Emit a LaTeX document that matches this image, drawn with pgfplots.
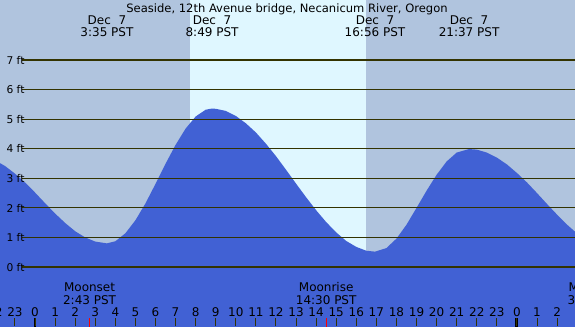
\documentclass[border=0pt]{standalone}
\usepackage{pgfplots}
\pgfplotsset{compat=1.18}
\usepackage{fontspec}
\setmainfont{DejaVu Sans}
\definecolor{bgc}{RGB}{176,196,222}
\definecolor{dayc}{RGB}{223,247,255}
\definecolor{waterc}{RGB}{65,97,212}
\definecolor{gridc}{RGB}{51,51,0}
\definecolor{txtc}{RGB}{51,51,0}
\begin{document}
\begin{tikzpicture}
\begin{axis}[
  scale only axis, width=431.25pt, height=244.5pt,
  xmin=-1.743, xmax=26.892, ymin=-1.995, ymax=9.03,
  axis background/.style={fill=bgc},
  axis line style={draw=none},
  axis on top,
  ytick=\empty,
  xtick={-2,...,27}, xticklabels={},
  xtick pos=bottom,
  tick align=inside,
  major tick length=6pt,
  every tick/.style={draw=gridc, line width=0.75pt},
  clip=true,
  font=\fontsize{9pt}{10pt}\selectfont,
  every node/.append style={inner sep=0pt, text=txtc},
]
% daylight band
\addplot[fill=dayc, draw=none, forget plot] coordinates {(7.72,-2.1)(7.72,9.2)(16.48,9.2)(16.48,-2.1)} -- cycle;
% water
\addplot[fill=waterc, draw=none, forget plot] coordinates {
(-2.0,-2.5)
(-2.0,3.61)(-1.5,3.42)(-1.0,3.16)(-0.5,2.86)(0,2.52)(0.5,2.16)(1.0,1.81)(1.5,1.49)(2.0,1.21)(2.5,1.00)(3.0,0.86)(3.583,0.80)
(4.0,0.87)(4.5,1.14)(5.0,1.58)(5.5,2.15)(6.0,2.81)(6.5,3.49)(7.0,4.13)(7.5,4.68)(8.0,5.09)(8.5,5.32)(8.817,5.36)
(9.0,5.35)(9.5,5.28)(10.0,5.11)(10.5,4.86)(11.0,4.55)(11.5,4.17)(12.0,3.75)(12.5,3.29)(13.0,2.82)(13.5,2.36)(14.0,1.92)(14.5,1.52)(15.0,1.17)(15.5,0.88)(16.0,0.68)(16.5,0.55)(16.933,0.52)
(17.5,0.64)(18.0,0.96)(18.5,1.43)(19.0,2.00)(19.5,2.58)(20.0,3.12)(20.5,3.57)(21.0,3.87)(21.617,3.99)
(22.0,3.97)(22.5,3.87)(23.0,3.70)(23.5,3.47)(24.0,3.18)(24.5,2.86)(25.0,2.50)(25.5,2.13)(26.0,1.77)(26.5,1.43)(27.0,1.13)
(27.0,-2.5)} -- cycle;
% grid lines
\pgfplotsinvokeforeach{0,...,7}{
  \addplot[draw=gridc, line width=0.9pt, forget plot] coordinates {(-0.647,#1)(27,#1)};
  \node[anchor=base west, font=\fontsize{8pt}{9pt}\selectfont] at (axis cs:-1.65,#1-0.14) {#1 ft};
}
% special ticks
\addplot[draw=black, line width=2.2pt, forget plot] coordinates {(0,-2.1)(0,-1.725)};
\addplot[draw=black, line width=2.2pt, forget plot] coordinates {(24,-2.1)(24,-1.725)};
\addplot[draw=red, line width=0.75pt, forget plot] coordinates {(2.717,-2.1)(2.717,-1.725)};
\addplot[draw=red, line width=0.75pt, forget plot] coordinates {(14.5,-2.1)(14.5,-1.725)};
% hour labels
\pgfplotsinvokeforeach{-2,...,26}{
  \node[anchor=base] at (axis cs:#1,-1.657) {\pgfmathparse{int(mod(#1+24,24))}\pgfmathresult};
}
% title and tide labels
\node[anchor=base, font=\fontsize{8.65pt}{10pt}\selectfont] at (axis cs:12.55,8.60) {Seaside, 12th Avenue bridge, Necanicum River, Oregon};
\node[anchor=base] at (axis cs:3.583,8.21) {Dec\ \ 7};
\node[anchor=base] at (axis cs:3.583,7.81) {3:35 PST};
\node[anchor=base] at (axis cs:8.817,8.21) {Dec\ \ 7};
\node[anchor=base] at (axis cs:8.817,7.81) {8:49 PST};
\node[anchor=base] at (axis cs:16.933,8.21) {Dec\ \ 7};
\node[anchor=base] at (axis cs:16.933,7.81) {16:56 PST};
\node[anchor=base] at (axis cs:21.617,8.21) {Dec\ \ 7};
\node[anchor=base] at (axis cs:21.617,7.81) {21:37 PST};
% moon labels
\node[anchor=base] at (axis cs:2.717,-0.822) {Moonset};
\node[anchor=base] at (axis cs:2.717,-1.251) {2:43 PST};
\node[anchor=base] at (axis cs:14.5,-0.822) {Moonrise};
\node[anchor=base] at (axis cs:14.5,-1.251) {14:30 PST};
\node[anchor=base] at (axis cs:27.84,-0.822) {Moonset};
\node[anchor=base] at (axis cs:27.84,-1.251) {3:50 PST};
\end{axis}
\pgfresetboundingbox
\path[use as bounding box] (current axis.south west) rectangle (current axis.north east);
\end{tikzpicture}
\end{document}
